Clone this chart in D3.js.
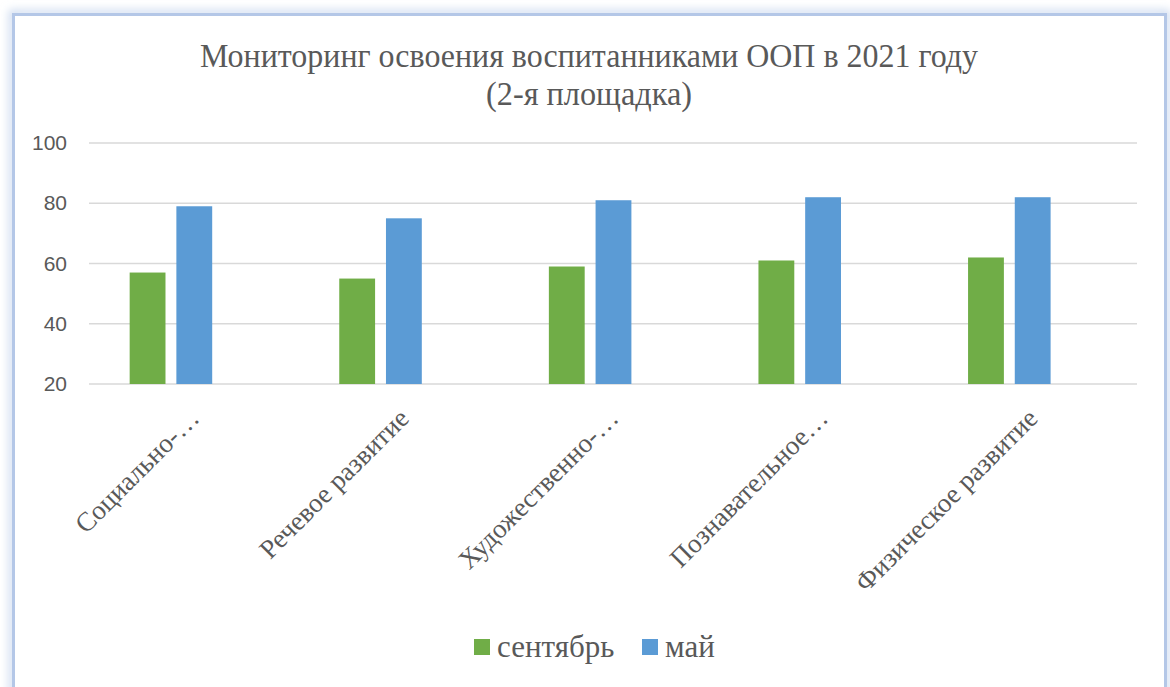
<!DOCTYPE html>
<html><head><meta charset="utf-8">
<script src="https://cdn.jsdelivr.net/npm/d3@7"></script>
<style>body{margin:0;background:#fff;}svg{display:block;}</style>
</head><body>
<svg id="c" width="1170" height="687"></svg>
<script>
const titleLines = ["Мониторинг освоения воспитанниками ООП в 2021 году", "(2-я площадка)"];
const categories = ["Социально-…", "Речевое развитие", "Художественно-…", "Познавательное…", "Физическое развитие"];
const seriesNames = ["сентябрь", "май"];
const september = [57, 55, 59, 61, 62];
const may = [79, 75, 81, 82, 82];
const yTicks = [20, 40, 60, 80, 100];
const colors = ["#70AD47", "#5B9BD5"];

const svg = d3.select("#c");
const defs = svg.append("defs");
const f = defs.append("filter").attr("id","sh").attr("x","-5%").attr("y","-5%").attr("width","110%").attr("height","110%");
f.append("feGaussianBlur").attr("stdDeviation", 4);

// frame with glow
svg.append("rect").attr("x",12).attr("y",13).attr("width",1155).attr("height",700)
  .attr("fill","none").attr("stroke","#c9d8ee").attr("stroke-width",6).attr("filter","url(#sh)");
svg.append("rect").attr("x",13.5).attr("y",14.5).attr("width",1152).attr("height",700)
  .attr("fill","#fff").attr("stroke","#b4c7e7").attr("stroke-width",3);

const plot = {left: 89, right: 1137, top: 143, bottom: 384};
const y = d3.scaleLinear().domain([20, 100]).range([plot.bottom, plot.top]);
const x0 = d3.scaleBand().domain(categories).range([plot.left, plot.right]).padding(0);
const x1 = d3.scaleBand().domain(seriesNames).range([0, x0.bandwidth()])
  .paddingInner(0.233).paddingOuter(1.36).align(0.32);

const grey = "#595959";
// title
const t = svg.append("g").attr("fill", grey).attr("font-family", "'Liberation Serif','Times New Roman',serif").attr("font-size", 34).attr("text-anchor","middle");
t.append("text").attr("x", 589).attr("y", 67).attr("textLength", 778).attr("lengthAdjust","spacingAndGlyphs").text(titleLines[0]);
t.append("text").attr("x", 589).attr("y", 105).attr("textLength", 206).attr("lengthAdjust","spacingAndGlyphs").text(titleLines[1]);

// gridlines
svg.append("g").selectAll("line").data(yTicks).join("line")
  .attr("x1", plot.left).attr("x2", plot.right)
  .attr("y1", d => y(d)).attr("y2", d => y(d))
  .attr("stroke", "#d9d9d9").attr("stroke-width", 1.5);

// y axis labels
const yAxis = d3.axisLeft(y).tickValues(yTicks).tickSize(0).tickPadding(22);
svg.append("g").attr("transform", `translate(${plot.left},0)`).call(yAxis)
  .call(g => g.select(".domain").remove())
  .call(g => g.selectAll("text").attr("fill", grey).attr("font-family","'Liberation Sans',Arial,sans-serif").attr("font-size", 21));

// bars
const data = categories.map((c, i) => ({c, vals: [september[i], may[i]]}));
const gcat = svg.append("g").selectAll("g").data(data).join("g")
  .attr("transform", d => `translate(${x0(d.c)},0)`);
gcat.selectAll("rect").data(d => d.vals.map((v, j) => ({s: seriesNames[j], v, j}))).join("rect")
  .attr("x", d => x1(d.s)).attr("width", x1.bandwidth())
  .attr("y", d => y(d.v)).attr("height", d => y(20) - y(d.v))
  .attr("fill", d => colors[d.j]);

// category labels
svg.append("g").selectAll("text").data(categories).join("text")
  .attr("transform", d => `translate(${x0(d) + x0.bandwidth()/2 + 7},${plot.bottom + 36}) rotate(-45)`)
  .attr("text-anchor","end").attr("fill", grey)
  .attr("font-family","'Liberation Serif','Times New Roman',serif").attr("font-size", 27)
  .text(d => d);

// legend
const lg = svg.append("g").attr("font-family","'Liberation Serif','Times New Roman',serif").attr("font-size", 31).attr("fill", grey);
const legX = [474, 642];
seriesNames.forEach((s, i) => {
  lg.append("rect").attr("x", legX[i]).attr("y", 639).attr("width", 16).attr("height", 16).attr("fill", colors[i]);
  lg.append("text").attr("x", legX[i] + 23).attr("y", 657).text(s);
});
</script>
</body></html>
